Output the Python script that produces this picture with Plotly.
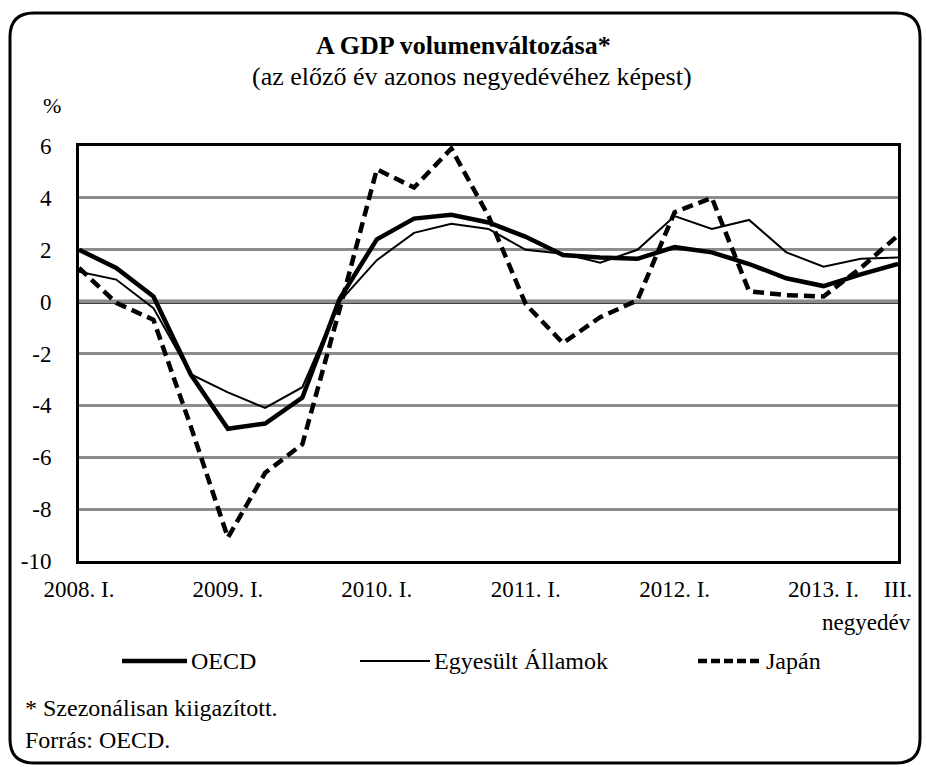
import plotly.graph_objects as go

quarters = list(range(23))
tick_pos = [0, 4, 8, 12, 16, 20, 22]
tick_text = ["2008. I.", "2009. I.", "2010. I.", "2011. I.", "2012. I.", "2013. I.", "III."]
y_tick_vals = [-10, -8, -6, -4, -2, 0, 2, 4, 6]
y_tick_text = ["-10", "-8", "-6", "-4", "-2", "0", "2", "4", "6"]

oecd = [2.0, 1.3, 0.2, -2.8, -4.9, -4.7, -3.7, 0.1, 2.4, 3.2, 3.35, 3.05, 2.5, 1.8,
        1.7, 1.65, 2.1, 1.9, 1.45, 0.9, 0.6, 1.05, 1.45]
usa = [1.15, 0.85, -0.25, -2.8, -3.5, -4.1, -3.3, 0.0, 1.6, 2.65, 3.0, 2.8, 2.0, 1.85,
       1.5, 2.0, 3.3, 2.8, 3.15, 1.9, 1.35, 1.65, 1.7]
japan = [1.3, -0.05, -0.7, -4.8, -9.1, -6.6, -5.5, -0.3, 5.1, 4.4, 5.9, 3.3, -0.1, -1.6,
         -0.6, 0.05, 3.45, 4.0, 0.4, 0.25, 0.2, 1.3, 2.55]

W, H = 926, 767
L, R, T, B = 79, 898, 146, 561
FONT = "Liberation Serif"


def px(x):
    return (x - L) / (R - L)


def py(y):
    return (B - y) / (B - T)


fig = go.Figure()
fig.add_trace(go.Scatter(x=quarters, y=usa, mode="lines", name="Egyesült Államok",
                         line=dict(color="black", width=2)))
fig.add_trace(go.Scatter(x=quarters, y=japan, mode="lines", name="Japán",
                         line=dict(color="black", width=4.5, dash="11px,6px")))
fig.add_trace(go.Scatter(x=quarters, y=oecd, mode="lines", name="OECD",
                         line=dict(color="black", width=4.5)))

shapes = []
# rounded outer border
l0, r0, t0, b0, rr = 10, 920, 13, 763, 24
path = (f"M {px(l0 + rr)},{py(t0)} L {px(r0 - rr)},{py(t0)} "
        f"Q {px(r0)},{py(t0)} {px(r0)},{py(t0 + rr)} "
        f"L {px(r0)},{py(b0 - rr)} Q {px(r0)},{py(b0)} {px(r0 - rr)},{py(b0)} "
        f"L {px(l0 + rr)},{py(b0)} Q {px(l0)},{py(b0)} {px(l0)},{py(b0 - rr)} "
        f"L {px(l0)},{py(t0 + rr)} Q {px(l0)},{py(t0)} {px(l0 + rr)},{py(t0)} Z")
shapes.append(dict(type="path", xref="paper", yref="paper", path=path,
                   line=dict(color="black", width=3)))
# zero line
shapes.append(dict(type="line", xref="paper", yref="y", x0=0, x1=1, y0=0, y1=0,
                   line=dict(color="black", width=4), layer="below"))
# legend samples
ly = 661
shapes.append(dict(type="line", xref="paper", yref="paper", x0=px(122), x1=px(187),
                   y0=py(ly), y1=py(ly), line=dict(color="black", width=4.5)))
shapes.append(dict(type="line", xref="paper", yref="paper", x0=px(360), x1=px(430),
                   y0=py(ly), y1=py(ly), line=dict(color="black", width=2)))
shapes.append(dict(type="line", xref="paper", yref="paper", x0=px(698), x1=px(763),
                   y0=py(ly), y1=py(ly), line=dict(color="black", width=4.5, dash="9px,4px")))


def ann(text, x, y, size, anchor="left"):
    return dict(text=text, x=px(x), y=py(y), xref="paper", yref="paper", showarrow=False,
                font=dict(size=size, family=FONT, color="black"), xanchor=anchor, yanchor="middle")


annotations = [
    ann("<b>A GDP volumenváltozása*</b>", 463, 45, 26, "center"),
    ann("(az előző év azonos negyedévéhez képest)", 472, 77, 26, "center"),
    ann("%", 52, 105, 22, "center"),
    ann("negyedév", 913, 622, 23, "right"),
    ann("OECD", 189, ly, 24),
    ann("Egyesült Államok", 432, ly, 24),
    ann("Japán", 764, ly, 24),
    ann("* Szezonálisan kiigazított.", 23, 708, 24),
    ann("Forrás: OECD.", 23, 740, 24),
]

fig.update_layout(
    width=W, height=H,
    margin=dict(l=L, r=W - R, t=T, b=H - B),
    paper_bgcolor="white", plot_bgcolor="white",
    showlegend=False,
    font=dict(family=FONT, size=23, color="black"),
    shapes=shapes, annotations=annotations,
    xaxis=dict(range=[0, 22], tickvals=tick_pos, ticktext=tick_text, showgrid=False,
               zeroline=False, showline=True, linecolor="black", linewidth=3, mirror=True,
               ticks="", ticklabelstandoff=5, tickfont=dict(size=23, family=FONT)),
    yaxis=dict(range=[-10, 6], tickvals=y_tick_vals, ticktext=y_tick_text, showgrid=True,
               gridcolor="#8c8c8c", gridwidth=3,
               zeroline=False, showline=True, linecolor="black", linewidth=3, mirror=True,
               ticks="", ticklabelstandoff=20, tickfont=dict(size=23, family=FONT)),
)

fig.write_html("out.html", config={"displayModeBar": False},
               post_script="document.body.style.margin='0px';")
